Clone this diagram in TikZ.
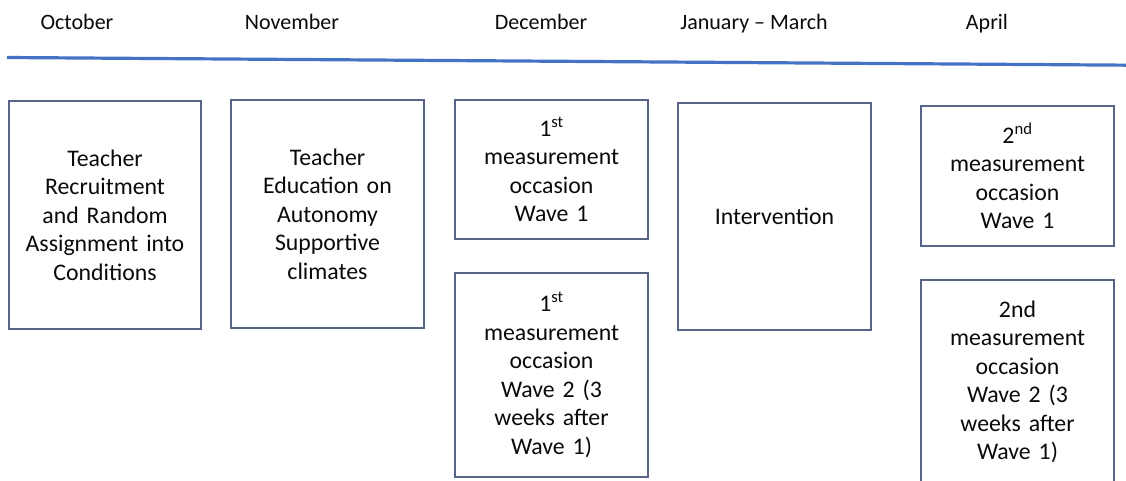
\documentclass[tikz,border=0pt]{standalone}
\usepackage{fontspec}
\setmainfont{Carlito}
\definecolor{boxc}{RGB}{88,100,135}
\definecolor{linec}{RGB}{68,114,196}
\definecolor{txt}{RGB}{10,10,10}
\begin{document}
\begin{tikzpicture}[x=1pt,y=-1pt,
  box/.style={draw=boxc, line width=1.2pt, align=center, text width=185pt,
    minimum width=193pt, inner sep=0pt, text=txt,
    font=\fontsize{23.8}{28.5}\selectfont},
  head/.style={anchor=base, text=txt, font=\fontsize{22}{26}\selectfont}]
\fill[white] (0,0) rectangle (1126,481);
\useasboundingbox (0,0) rectangle (1126,481);
% headers
\node[head] (oct) at (77,30) {October};
\node[head] (nov) at (292,30) {November};
\node[head] (dec) at (541,30) {December};
\node[head] (jan) at (754,30) {January -- March};
\node[head] (apr) at (987,30) {April};
% timeline
\coordinate (tl1) at (7,57.5);
\coordinate (tl2) at (1130,65.2);
\draw[linec, line width=3.2pt] (tl1) -- (tl2);
% boxes
\node[box, minimum width=192pt, minimum height=228pt] (b1) at (105,215)
  {Teacher\\Recruitment\\and Random\\Assignment into\\Conditions};
\node[box, minimum height=228pt] (b2) at (327.5,214)
  {Teacher\\Education on\\Autonomy\\Supportive\\climates};
\node[box, minimum height=139pt] (b3) at (551.5,169.5)
  {1\textsuperscript{st}\\measurement\\occasion\\Wave 1};
\node[box, minimum height=204pt] (b4) at (551.5,375)
  {1\textsuperscript{st}\\measurement\\occasion\\Wave 2 (3\\weeks after\\Wave 1)};
\node[box, minimum height=227pt] (b5) at (774.5,216.5) {Intervention};
\node[box, minimum height=140pt] (b6) at (1017.5,176)
  {2\textsuperscript{nd}\\measurement\\occasion\\Wave 1};
\node[box, minimum height=204pt] (b7) at (1017.5,382)
  {2nd\\measurement\\occasion\\Wave 2 (3\\weeks after\\Wave 1)};
\end{tikzpicture}
\end{document}
